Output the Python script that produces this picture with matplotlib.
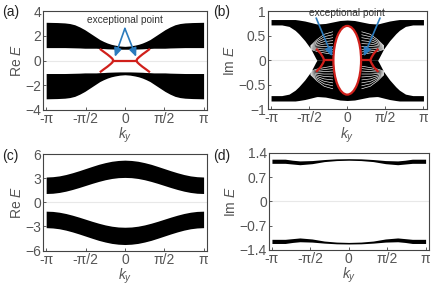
import numpy as np
import matplotlib
matplotlib.use('Agg')
import matplotlib.pyplot as plt
from matplotlib.patches import Ellipse

plt.rcParams['font.family'] = ['Liberation Sans', 'DejaVu Sans']
plt.rcParams['mathtext.fontset'] = 'custom'
plt.rcParams['mathtext.it'] = 'Liberation Sans:italic'
plt.rcParams['mathtext.rm'] = 'Liberation Sans'

#------- data (half of each band, ky from 0 to pi, mirrored below)

# (a) Re E, upper band
ky_a = np.array([0, 0.2, 0.4, 0.55, 0.7, 0.85, 1.0, 1.15, 1.3, 1.45, 1.6, 1.8, 2.0, 2.2, 2.4, 2.7, np.pi])
top_a = np.array([1.15, 1.18, 1.25, 1.32, 1.42, 1.55, 1.7, 1.9, 2.1, 2.3, 2.5, 2.72, 2.9, 3.0, 3.05, 3.08, 3.1])
bot_a = np.array([0.92, 0.92, 0.93, 0.94, 0.95, 0.97, 0.98, 1.0, 1.0, 1.0, 1.0, 1.02, 1.03, 1.04, 1.05, 1.05, 1.05])
ep_ky_a = np.array([0.46, 0.5, 0.58, 0.7, 0.85, 1.0])
ep_E_a = np.array([0, 0.15, 0.3, 0.5, 0.72, 0.95])

# (b) Im E, upper band
ky_b = np.array([0, 0.3, 0.6, 0.9, 1.2, 1.25, 1.3, 1.5, 1.75, 2.0, 2.15, 2.4, 2.7, np.pi])
top_b = np.array([0.82, 0.81, 0.78, 0.75, 0.74, 0.74, 0.745, 0.77, 0.8, 0.82, 0.83, 0.83, 0.83, 0.83])
bot_b = np.array([0, 0, 0, 0, 0, 0, 0.04, 0.23, 0.4, 0.54, 0.61, 0.69, 0.72, 0.72])
ellipse_w = 1.14
ellipse_h = 1.4
ep_ky_b = np.array([0.95, 1.0, 1.1, 1.25])
ep_E_b = np.array([0, 0.06, 0.14, 0.22])
ep_flat_b = [0.57, 0.95]
# striped fan between band and ellipse
fan_ky = np.array([1.5, 1.25, 0.95, 0.6])
fan_E = [[0.30, 0.42, 0.53, 0.58],
         [0.29, 0.39, 0.48, 0.52],
         [0.28, 0.36, 0.43, 0.46],
         [0.27, 0.33, 0.38, 0.40],
         [0.26, 0.30, 0.33, 0.34],
         [0.25, 0.27, 0.28, 0.28],
         [0.24, 0.24, 0.23, 0.22],
         [0.23, 0.21, 0.19, 0.17],
         [0.22, 0.18, 0.15, 0.12]]

# (c) Re E, upper band
ky_c = np.array([0, 1, 2, 3, 4, 5, 6, 7, 8, 9, 10, 11, 12]) * np.pi / 12
top_c = np.array([5.25, 5.21, 5.11, 4.94, 4.73, 4.47, 4.2, 3.93, 3.68, 3.46, 3.29, 3.19, 3.15])
bot_c = np.array([3.1, 3.07, 2.97, 2.81, 2.6, 2.36, 2.1, 1.84, 1.6, 1.39, 1.23, 1.13, 1.1])

# (d) Im E, upper band
ky_d = np.array([0, 0.5, 1.0, 1.5, 2.0, 2.3, 2.6, np.pi])
top_d = np.array([1.235, 1.23, 1.21, 1.18, 1.17, 1.19, 1.22, 1.22])
bot_d = np.array([1.19, 1.18, 1.15, 1.09, 1.06, 1.08, 1.10, 1.10])

xticks = [-np.pi, -np.pi/2, 0, np.pi/2, np.pi]
xticklabels = ['-\u03c0', '-\u03c0/2', '0', '\u03c0/2', '\u03c0']

red = '#d0201b'
blue = '#2b7bbd'
gray = '#555555'


def full(k, v):
    return np.concatenate([-k[::-1], k[1:]]), np.concatenate([v[::-1], v[1:]])


def setup(ax, ylim, yticks, ylabels, ylab):
    ax.set_xlim(-np.pi - 0.12, np.pi + 0.14)
    ax.set_ylim(*ylim)
    ax.set_xticks(xticks)
    ax.set_xticklabels(xticklabels)
    ax.set_yticks(yticks)
    ax.set_yticklabels(ylabels)
    ax.tick_params(direction='in', length=2.5, width=0.6, colors='#444444',
                   labelcolor=gray, labelsize=10, pad=1.5)
    for s in ax.spines.values():
        s.set_color('#444444')
        s.set_linewidth(0.8)
    ax.axhline(0, color='#e8e8e8', lw=0.8, zorder=0)
    ax.set_xlabel('$k_y$', color=gray, fontsize=10, labelpad=0)
    ax.set_ylabel(ylab, color=gray, fontsize=10, labelpad=1)


def bands(ax, k, top, bot):
    kk, tt = full(k, top)
    _, bb = full(k, bot)
    ax.fill_between(kk, bb, tt, color='black', lw=0, zorder=1)
    ax.fill_between(kk, -bb, -tt, color='black', lw=0, zorder=1)


fig = plt.figure(figsize=(4.36, 2.87), dpi=100)
ax_a = fig.add_axes([0.099, 0.617, 0.376, 0.344])
ax_b = fig.add_axes([0.615, 0.619, 0.364, 0.342])
ax_c = fig.add_axes([0.099, 0.127, 0.376, 0.336])
ax_d = fig.add_axes([0.617, 0.130, 0.367, 0.337])

arrow = dict(arrowstyle='-|>,head_length=0.5,head_width=0.22',
             color=blue, lw=1.2, shrinkA=0, shrinkB=0)

# (a)
bands(ax_a, ky_a, top_a, bot_a)
ax_a.plot([-ep_ky_a[0], ep_ky_a[0]], [0, 0], color=red, lw=1.6, zorder=3)
for sx in (-1, 1):
    for sy in (-1, 1):
        ax_a.plot(sx * ep_ky_a, sy * ep_E_a, color=red, lw=1.6, zorder=3,
                  solid_capstyle='butt')
ax_a.text(0, 3.3, 'exceptional point', ha='center', va='center', fontsize=7.3, color='#333333')
for hx in (-0.4, 0.45):
    ax_a.annotate('', xy=(hx, 0.3), xytext=(0, 2.6), arrowprops=arrow, zorder=4)
setup(ax_a, (-4, 4), [-4, -2, 0, 2, 4], ['\u22124', '\u22122', '0', '2', '4'], 'Re $E$')

# (b)
bands(ax_b, ky_b, top_b, bot_b)
for sx in (-1, 1):
    for sy in (-1, 1):
        for f in fan_E:
            ax_b.plot(sx * fan_ky, sy * np.array(f), color='white', lw=0.45, zorder=2)
        ax_b.plot(sx * ep_ky_b, sy * ep_E_b, color=red, lw=1.6, zorder=3)
    ax_b.plot([sx * ep_flat_b[0], sx * ep_flat_b[1]], [0, 0], color=red, lw=1.6, zorder=3)
ax_b.add_patch(Ellipse((0, 0), ellipse_w, ellipse_h, facecolor='white',
                       edgecolor=red, lw=1.6, zorder=3))
ax_b.text(0, 0.96, 'exceptional point', ha='center', va='center', fontsize=7.3, color='#333333')
ax_b.annotate('', xy=(-0.62, 0.08), xytext=(-1.28, 0.86), arrowprops=arrow, zorder=4)
ax_b.annotate('', xy=(0.68, 0.08), xytext=(1.35, 0.86), arrowprops=arrow, zorder=4)
setup(ax_b, (-1, 1), [-1, -0.5, 0, 0.5, 1], ['\u22121', '\u22120.5', '0', '0.5', '1'], 'Im $E$')

# (c)
bands(ax_c, ky_c, top_c, bot_c)
setup(ax_c, (-6, 6), [-6, -3, 0, 3, 6], ['\u22126', '\u22123', '0', '3', '6'], 'Re $E$')

# (d)
bands(ax_d, ky_d, top_d, bot_d)
setup(ax_d, (-1.4, 1.4), [-1.4, -0.7, 0, 0.7, 1.4], ['\u22121.4', '\u22120.7', '0', '0.7', '1.4'], 'Im $E$')

for lab, x, y in [('(a)', 0.004, 0.958), ('(b)', 0.488, 0.958), ('(c)', 0.004, 0.458), ('(d)', 0.488, 0.458)]:
    fig.text(x, y, lab, fontsize=10, color='#222222', va='center', ha='left')

fig.savefig('out.png', dpi=100)
